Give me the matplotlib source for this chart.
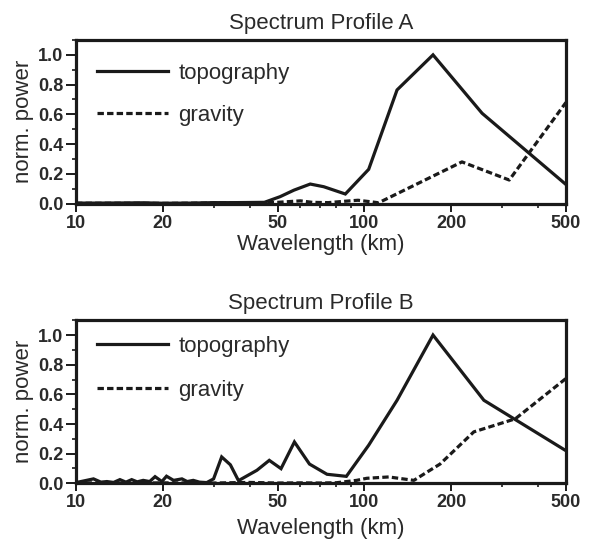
import matplotlib
matplotlib.use("Agg")
import matplotlib.pyplot as plt
from matplotlib.ticker import FixedLocator, NullFormatter, MultipleLocator, FormatStrFormatter

plt.rcParams['font.family'] = ['Liberation Sans', 'DejaVu Sans']

# ---- Data: Profile A ----
a_topo_wl = [10, 12, 15, 17, 20, 25, 30, 35, 40, 45, 51, 57, 64.9, 72.3, 85.9,
             103.5, 129.8, 173, 256, 500]
a_topo_pw = [0.003, 0.003, 0.004, 0.005, 0.002, 0.003, 0.006, 0.006, 0.007, 0.008,
             0.046, 0.09, 0.131, 0.113, 0.064, 0.23, 0.764, 1.0, 0.607, 0.128]
a_grav_wl = [10, 15, 20, 28, 35, 45, 50, 60, 66, 75, 85, 95, 105, 112, 218, 318, 500]
a_grav_pw = [0.002, 0.002, 0.001, 0.003, 0.004, 0.005, 0.008, 0.018, 0.008, 0.006,
             0.015, 0.022, 0.012, 0.005, 0.28, 0.158, 0.68]

# ---- Data: Profile B ----
b_topo_wl = [10, 11.5, 12.2, 12.8, 13.5, 14.2, 14.9, 15.6, 16.3, 17.1, 18, 18.8,
             19.85, 20.6, 21.8, 23.3, 24.3, 25.5, 26.8, 28.4, 30, 32, 34.3, 36.6,
             42.4, 46.8, 51.4, 57.2, 64.5, 74.2, 86.6, 103.5, 129.8, 173, 259.7, 500]
b_topo_pw = [0.005, 0.03, 0.008, 0.012, 0.006, 0.025, 0.008, 0.025, 0.01, 0.02,
             0.012, 0.045, 0.012, 0.048, 0.02, 0.03, 0.012, 0.02, 0.008, 0.005,
             0.03, 0.178, 0.125, 0.018, 0.088, 0.155, 0.099, 0.279, 0.13, 0.061,
             0.047, 0.257, 0.56, 1.0, 0.56, 0.22]
b_grav_wl = [10, 15, 20, 30, 40, 50, 60, 70, 80, 94, 102, 121.5, 148.5, 165, 183,
             239.6, 333.7, 500]
b_grav_pw = [0.003, 0.002, 0.003, 0.002, 0.006, 0.002, 0.003, 0.002, 0.004, 0.02,
             0.034, 0.043, 0.02, 0.076, 0.13, 0.347, 0.435, 0.707]

x_major = [10, 20, 50, 100, 200, 500]
x_minor = [30, 40, 60, 70, 80, 90, 300, 400]
titles = ["Spectrum Profile A", "Spectrum Profile B"]

INK = '#1a1a1a'
TXT = '#2a2a2a'

fig = plt.figure(figsize=(5.91, 5.39), dpi=100)
ax_a = fig.add_axes([0.1286, 0.6224, 0.829, 0.3034])
ax_b = fig.add_axes([0.1286, 0.1033, 0.829, 0.3026])

panels = [
    (ax_a, a_topo_wl, a_topo_pw, a_grav_wl, a_grav_pw, titles[0], (0.025, 0.915), 0.95, 2),
    (ax_b, b_topo_wl, b_topo_pw, b_grav_wl, b_grav_pw, titles[1], (0.025, 0.96), 1.05, 5),
]

for ax, tw, tp, gw, gp, title, anchor, lspace, xpad in panels:
    ax.plot(tw, tp, color=INK, lw=2.3, solid_joinstyle='miter', label='topography')
    ax.plot(gw, gp, color=INK, lw=2.3, dashes=(2, 1), label='gravity')
    ax.set_xscale('log')
    ax.set_xlim(10, 500)
    ax.set_ylim(0, 1.1)
    ax.xaxis.set_major_locator(FixedLocator(x_major))
    ax.xaxis.set_minor_locator(FixedLocator(x_minor))
    ax.xaxis.set_major_formatter(FormatStrFormatter('%d'))
    ax.xaxis.set_minor_formatter(NullFormatter())
    ax.yaxis.set_major_locator(MultipleLocator(0.2))
    ax.yaxis.set_minor_locator(MultipleLocator(0.1))
    ax.yaxis.set_major_formatter(FormatStrFormatter('%.1f'))
    ax.tick_params(which='major', direction='out', length=6, width=1.4, colors=INK,
                   labelsize=13, pad=2, labelcolor=TXT)
    ax.tick_params(which='minor', direction='out', length=3, width=1.2, colors=INK)
    ax.tick_params(axis='y', which='major', length=7)
    for lab in ax.get_xticklabels() + ax.get_yticklabels():
        lab.set_fontweight('bold')
    for sp in ax.spines.values():
        sp.set_linewidth(2.3)
        sp.set_color(INK)
    ax.set_title(title, fontsize=16, color=TXT, pad=8)
    ax.set_xlabel('Wavelength (km)', fontsize=16, color=TXT, labelpad=xpad)
    ax.set_ylabel('norm. power', fontsize=16, color=TXT, labelpad=3)
    leg = ax.legend(loc='upper left', bbox_to_anchor=anchor, frameon=False,
                    fontsize=16, handlelength=3.2, handletextpad=0.45,
                    labelspacing=lspace, borderaxespad=0.0)
    for t in leg.get_texts():
        t.set_color(TXT)

fig.savefig('out.png', dpi=100)
